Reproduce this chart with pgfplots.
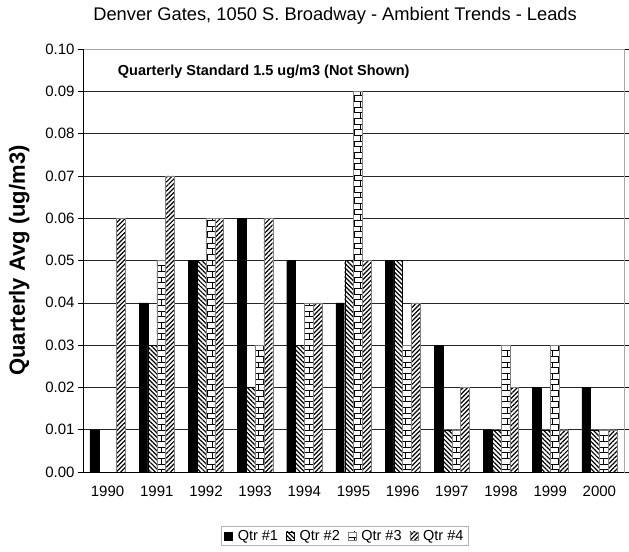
\documentclass[border=0pt]{standalone}
\usepackage{fontspec}
\setmainfont{Liberation Sans}
\usepackage{pgfplots}
\pgfplotsset{compat=1.18}
\usetikzlibrary{patterns,patterns.meta}
\newcommand{\legtxt}[1]{\rule{3bp}{0pt}#1\rule{6bp}{0pt}}
\begin{document}
\begin{tikzpicture}
\path[use as bounding box] (-83bp,-80bp) rectangle (546bp,472bp);
\begin{axis}[
  at={(0,0)}, anchor=south west,
  scale only axis, width=541bp, height=423bp,
  ybar=0pt, bar width=8.8bp,
  xmin=-0.5, xmax=10.5, ymin=0, ymax=0.1,
  xtick={0,...,10},
  xticklabels={1990,1991,1992,1993,1994,1995,1996,1997,1998,1999,2000},
  minor xtick={-0.5,0.5,...,10.5},
  ytick={0,0.01,...,0.1},
  yticklabel style={/pgf/number format/.cd,fixed,fixed zerofill,precision=2},
  /pgf/number format/assume math mode=true,
  tick label style={font=\fontsize{15bp}{17bp}\selectfont},
  xticklabel style={yshift=-6bp},
  tick align=outside,
  x tick style={draw=none},
  minor x tick style={black, line width=0.6pt},
  minor tick length=5bp,
  major tick length=5bp,
  y tick style={black, line width=0.6pt},
  ymajorgrids, grid style={black!85, line width=0.6pt},
  axis line style={gray!70, line width=0.8pt},
  ylabel={\bfseries Quarterly Avg (ug/m3)},
  ylabel style={at={(rel axis cs:-0.118,0.5)}, anchor=center, font=\fontsize{22bp}{24bp}\selectfont},
  legend style={at={(rel axis cs:0.484,-0.151)}, anchor=center, legend columns=4,
    draw=gray!60, line width=0.8pt, font=\fontsize{14.5bp}{16bp}\selectfont,
    inner xsep=3bp, inner ysep=2bp},
  legend image code/.code={\draw[#1, line width=0.5pt] (0bp,-4bp) rectangle (8bp,4bp);},
  clip=false,
]
\addplot[draw=black, fill=black] coordinates {(0,0.01) (1,0.04) (2,0.05) (3,0.06) (4,0.05) (5,0.04) (6,0.05) (7,0.03) (8,0.01) (9,0.02) (10,0.02)};
\addplot[draw=black, fill=white, postaction={pattern={Lines[angle=-45,distance=3.2bp,line width=1.2bp]}}] coordinates {(1,0.03) (2,0.05) (3,0.02) (4,0.03) (5,0.05) (6,0.05) (7,0.01) (8,0.01) (9,0.01) (10,0.01)};
\addplot[draw=gray, fill=white, postaction={pattern=bricks}] coordinates {(1,0.05) (2,0.06) (3,0.03) (4,0.04) (5,0.09) (6,0.03) (7,0.01) (8,0.03) (9,0.03) (10,0.01)};
\addplot[draw=gray, fill=white, postaction={pattern={Lines[angle=45,distance=3.2bp,line width=1.2bp]}}] coordinates {(0,0.06) (1,0.07) (2,0.06) (3,0.06) (4,0.04) (5,0.05) (6,0.04) (7,0.02) (8,0.02) (9,0.01) (10,0.01)};
\legend{\legtxt{Qtr \#1}, \legtxt{Qtr \#2}, \legtxt{Qtr \#3}, \rule{3bp}{0pt}Qtr \#4}
\draw[black, line width=0.8pt] (rel axis cs:0,0) -- (rel axis cs:0,1);
\draw[black, line width=0.8pt] (rel axis cs:0,0) -- (rel axis cs:1,0);
\node[anchor=west, font=\fontsize{14.5bp}{16bp}\selectfont\bfseries] at (rel axis cs:0.058,0.946) {Quarterly Standard 1.5 ug/m3 (Not Shown)};
\node[anchor=center, font=\fontsize{18.3bp}{20bp}\selectfont] at (rel axis cs:0.466,1.078) {Denver Gates, 1050 S. Broadway - Ambient Trends - Leads};
\end{axis}
\end{tikzpicture}
\end{document}
